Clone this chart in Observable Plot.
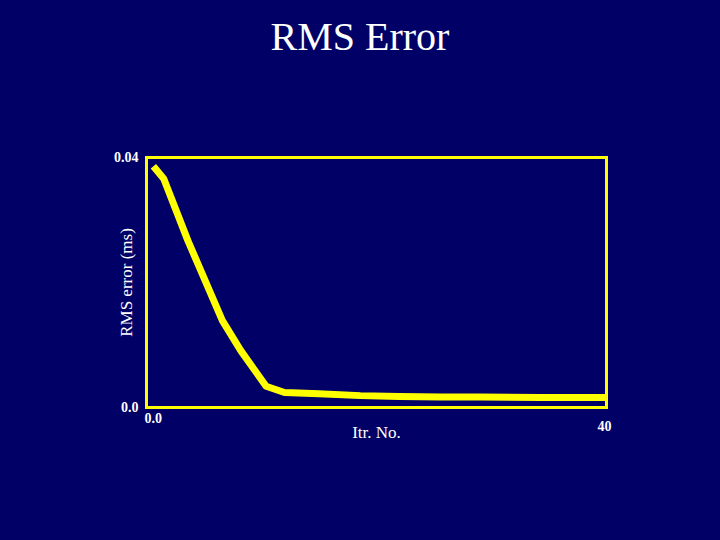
<!DOCTYPE html>
<html>
<head>
<meta charset="utf-8">
<script src="https://cdn.jsdelivr.net/npm/d3@7"></script>
<script src="https://cdn.jsdelivr.net/npm/@observablehq/plot@0.6"></script>
<style>
  html, body { margin: 0; padding: 0; background: #000066; }
  #chart { width: 720px; height: 540px; background: #000066; overflow: hidden; }
  #title { height: 60px; line-height: 73px; text-align: center; color: #ffffff;
           font-family: "Liberation Serif", "DejaVu Serif", serif; font-size: 40px; overflow: visible; }
</style>
</head>
<body>
<div id="chart">
  <div id="title">RMS Error</div>
</div>
<script>
// Data
const iterations = [0.6, 1.5, 3.6, 6.6, 8.2, 10.4, 12, 15, 18.6, 22, 25.6, 29, 34.3, 40];
const rmsError   = [0.0386, 0.0366, 0.0267, 0.0139, 0.0091, 0.0034, 0.0024, 0.0022, 0.0019, 0.00176, 0.00168, 0.00168, 0.0016, 0.0016];
const yTicks = [0, 0.04];
const yTickLabels = ["0.0", "0.04"];
const xTicks = [0, 40];
const xTickLabels = ["0.0", "40"];
const xLabel = "Itr. No.";
const yLabel = "RMS error (ms)";

const data = iterations.map((x, i) => ({x, y: rmsError[i]}));
const serif = "'Liberation Serif', 'DejaVu Serif', serif";
const yellow = "#ffff00";

const plot = Plot.plot({
  width: 720,
  height: 480,
  marginLeft: 146,
  marginRight: 114,
  marginTop: 97,
  marginBottom: 133,
  style: { background: "#000066", color: "#ffffff", fontFamily: serif },
  x: { domain: [0, 40], axis: null },
  y: { domain: [0, 0.04], axis: null },
  marks: [
    Plot.frame({ stroke: yellow, strokeWidth: 3 }),
    Plot.line(data, { x: "x", y: "y", stroke: yellow, strokeWidth: 7, strokeLinejoin: "round", strokeLinecap: "butt" }),
    // y tick labels
    Plot.text(yTicks, { x: () => 0, y: d => d, text: (d, i) => yTickLabels[i], dx: -8, textAnchor: "end",
      fill: "#ffffff", fontWeight: "bold", fontSize: 14, fontFamily: serif }),
    // x tick labels (staggered as in reference)
    Plot.text([xTicks[0]], { x: d => d, y: () => 0, text: [xTickLabels[0]], dx: -2, dy: 11, textAnchor: "start",
      fill: "#ffffff", fontWeight: "bold", fontSize: 14, fontFamily: serif }),
    Plot.text([xTicks[1]], { x: d => d, y: () => 0, text: [xTickLabels[1]], dx: -2, dy: 19, textAnchor: "middle",
      fill: "#ffffff", fontWeight: "bold", fontSize: 14, fontFamily: serif }),
    // axis labels
    Plot.text([xLabel], { frameAnchor: "bottom", text: d => d, dy: 30, textAnchor: "middle", fill: "#ffffff", fontSize: 17, fontFamily: serif }),
    Plot.text([yLabel], { frameAnchor: "left", text: d => d, dx: -20, rotate: -90, textAnchor: "middle", fill: "#ffffff", fontSize: 17, fontFamily: serif })
  ]
});
plot.style.display = "block";
document.getElementById("chart").appendChild(plot);
</script>
</body>
</html>
